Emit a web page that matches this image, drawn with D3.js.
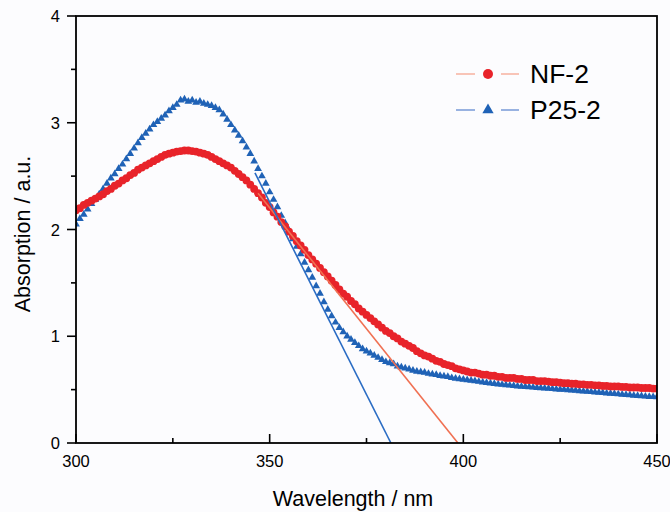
<!DOCTYPE html>
<html>
<head>
<meta charset="utf-8">
<script src="https://cdn.jsdelivr.net/npm/d3@7"></script>
<style>
  html, body { margin: 0; padding: 0; background: #fcfcfe; }
  svg { display: block; font-family: "Liberation Sans", Arial, sans-serif; }
</style>
</head>
<body>
<svg id="chart" width="670" height="512"></svg>
<script>
// UV-vis absorption spectra, one reading per nm from 300 to 450 nm
const wavelengths = d3.range(300, 451);

const nf2 = [
  2.18, 2.20, 2.23, 2.25, 2.27, 2.29, 2.31, 2.33, 2.36, 2.38,
  2.41, 2.43, 2.46, 2.48, 2.51, 2.53, 2.56, 2.58, 2.60, 2.62,
  2.64, 2.66, 2.68, 2.70, 2.71, 2.72, 2.73, 2.735, 2.74, 2.74,
  2.735, 2.73, 2.72, 2.71, 2.70, 2.68, 2.66, 2.64, 2.62, 2.60,
  2.58, 2.55, 2.52, 2.49, 2.46, 2.42, 2.38, 2.34, 2.30, 2.25,
  2.21, 2.16, 2.12, 2.07, 2.03, 1.98, 1.94, 1.89, 1.85, 1.81,
  1.76, 1.72, 1.68, 1.64, 1.60, 1.56, 1.52, 1.48, 1.44, 1.40,
  1.37, 1.33, 1.30, 1.26, 1.23, 1.20, 1.17, 1.14, 1.11, 1.08,
  1.05, 1.03, 1.00, 0.98, 0.95, 0.93, 0.91, 0.89, 0.86, 0.84,
  0.82, 0.81, 0.79, 0.77, 0.76, 0.74, 0.73, 0.72, 0.70, 0.69,
  0.68, 0.67, 0.66, 0.66, 0.65, 0.64, 0.64, 0.63, 0.63, 0.62,
  0.62, 0.61, 0.61, 0.61, 0.60, 0.60, 0.59, 0.59, 0.59, 0.58,
  0.58, 0.58, 0.575, 0.57, 0.57, 0.565, 0.56, 0.56, 0.555, 0.555,
  0.55, 0.55, 0.545, 0.545, 0.54, 0.54, 0.535, 0.535, 0.53, 0.53,
  0.53, 0.525, 0.525, 0.52, 0.52, 0.52, 0.515, 0.515, 0.515, 0.51,
  0.51
];

const p25 = [
  2.05, 2.10, 2.14, 2.19, 2.24, 2.28, 2.33, 2.38, 2.43, 2.48,
  2.52, 2.57, 2.61, 2.66, 2.71, 2.76, 2.81, 2.86, 2.90, 2.94,
  2.98, 3.01, 3.04, 3.07, 3.11, 3.14, 3.17, 3.21, 3.22, 3.20,
  3.21, 3.19, 3.20, 3.18, 3.17, 3.16, 3.14, 3.12, 3.08, 3.03,
  2.98, 2.93, 2.88, 2.83, 2.77, 2.71, 2.64, 2.57, 2.50, 2.43,
  2.35, 2.28, 2.21, 2.13, 2.06, 1.99, 1.91, 1.84, 1.77, 1.69,
  1.62, 1.55, 1.47, 1.40, 1.32, 1.25, 1.19, 1.13, 1.08, 1.04,
  1.00, 0.97, 0.94, 0.91, 0.88, 0.86, 0.84, 0.82, 0.80, 0.78,
  0.76, 0.75, 0.74, 0.72, 0.71, 0.70, 0.69, 0.68, 0.67, 0.665,
  0.66, 0.65, 0.645, 0.64, 0.63, 0.625, 0.62, 0.61, 0.605, 0.60,
  0.595, 0.59, 0.585, 0.58, 0.575, 0.57, 0.565, 0.56, 0.555, 0.55,
  0.547, 0.543, 0.54, 0.536, 0.532, 0.53, 0.527, 0.524, 0.521, 0.518,
  0.515, 0.512, 0.51, 0.507, 0.504, 0.502, 0.50, 0.497, 0.494, 0.491,
  0.488, 0.485, 0.482, 0.479, 0.476, 0.473, 0.47, 0.467, 0.464, 0.461,
  0.458, 0.455, 0.452, 0.449, 0.446, 0.443, 0.44, 0.437, 0.434, 0.432,
  0.43
];

// Tangent (band-edge) lines: [nm, absorption] end points
const nf2Tangent = [[347, 2.34], [398.6, 0]];
const p25Tangent = [[346.2, 2.53], [381.3, 0]];

const xTicks = [300, 350, 400, 450];
const xMinorTicks = [325, 375, 425];
const yTicks = [0, 1, 2, 3, 4];
const yMinorTicks = [0.5, 1.5, 2.5, 3.5];

const legendItems = [
  { name: 'NF-2', marker: 'circle' },
  { name: 'P25-2', marker: 'triangle' }
];

// Layout
const plotLeft = 76, plotRight = 657, plotTop = 16, plotBottom = 443;
const red = '#e8232a', blue = '#1f62b6';
const redLine = '#f07052', blueLine = '#2a6cc4';

const svg = d3.select('#chart');

const x = d3.scaleLinear().domain([300, 450]).range([plotLeft, plotRight]);
const y = d3.scaleLinear().domain([0, 4]).range([plotBottom, plotTop]);

svg.append('defs').append('clipPath').attr('id', 'plot-clip')
  .append('rect')
  .attr('x', plotLeft).attr('y', plotTop)
  .attr('width', plotRight - plotLeft).attr('height', plotBottom - plotTop);

const plot = svg.append('g').attr('clip-path', 'url(#plot-clip)');

// P25-2 triangles (drawn first, the red circles sit on top)
const tri = d3.symbol().type(d3.symbolTriangle).size(26);
plot.append('g')
  .selectAll('path')
  .data(wavelengths)
  .enter().append('path')
  .attr('d', tri)
  .attr('transform', (d, i) => `translate(${x(d)},${y(p25[i])})`)
  .attr('fill', blue);

// NF-2 circles
plot.append('g')
  .selectAll('circle')
  .data(wavelengths)
  .enter().append('circle')
  .attr('cx', d => x(d))
  .attr('cy', (d, i) => y(nf2[i]))
  .attr('r', 3.9)
  .attr('fill', red);

// Tangent lines
const line = d3.line().x(d => x(d[0])).y(d => y(d[1]));
plot.append('path').datum(nf2Tangent)
  .attr('d', line).attr('fill', 'none')
  .attr('stroke', redLine).attr('stroke-width', 1.6);
plot.append('path').datum(p25Tangent)
  .attr('d', line).attr('fill', 'none')
  .attr('stroke', blueLine).attr('stroke-width', 1.6);

// Frame
svg.append('rect')
  .attr('x', plotLeft).attr('y', plotTop)
  .attr('width', plotRight - plotLeft).attr('height', plotBottom - plotTop)
  .attr('fill', 'none')
  .attr('stroke', '#000')
  .attr('stroke-width', 1.8);

// X axis: ticks point inward
const xAxis = svg.append('g');
xAxis.selectAll('.major')
  .data(xTicks)
  .enter().append('line')
  .attr('x1', d => x(d)).attr('x2', d => x(d))
  .attr('y1', plotBottom).attr('y2', plotBottom - 9)
  .attr('stroke', '#000').attr('stroke-width', 1.6);
xAxis.selectAll('.minor')
  .data(xMinorTicks)
  .enter().append('line')
  .attr('x1', d => x(d)).attr('x2', d => x(d))
  .attr('y1', plotBottom).attr('y2', plotBottom - 5)
  .attr('stroke', '#000').attr('stroke-width', 1.6);
xAxis.selectAll('text')
  .data(xTicks)
  .enter().append('text')
  .attr('x', d => x(d))
  .attr('y', plotBottom + 24)
  .attr('text-anchor', 'middle')
  .attr('font-size', 16.5)
  .text(d => d);

// Y axis: ticks point outward
const yAxis = svg.append('g');
yAxis.selectAll('.major')
  .data(yTicks)
  .enter().append('line')
  .attr('x1', plotLeft - 9).attr('x2', plotLeft)
  .attr('y1', d => y(d)).attr('y2', d => y(d))
  .attr('stroke', '#000').attr('stroke-width', 1.6);
yAxis.selectAll('.minor')
  .data(yMinorTicks)
  .enter().append('line')
  .attr('x1', plotLeft - 5).attr('x2', plotLeft)
  .attr('y1', d => y(d)).attr('y2', d => y(d))
  .attr('stroke', '#000').attr('stroke-width', 1.6);
yAxis.selectAll('text')
  .data(yTicks)
  .enter().append('text')
  .attr('x', plotLeft - 16)
  .attr('y', d => y(d) + 6)
  .attr('text-anchor', 'end')
  .attr('font-size', 16.5)
  .text(d => d);

// Axis titles
svg.append('text')
  .attr('x', 353)
  .attr('y', 506)
  .attr('text-anchor', 'middle')
  .attr('font-size', 21.5)
  .text('Wavelength / nm');

svg.append('text')
  .attr('transform', 'translate(30,234) rotate(-90)')
  .attr('text-anchor', 'middle')
  .attr('font-size', 21.5)
  .text('Absorption / a.u.');

// Legend
const legend = svg.append('g').attr('transform', 'translate(456,74)');
const legendRow = legend.selectAll('g')
  .data(legendItems)
  .enter().append('g')
  .attr('transform', (d, i) => `translate(0,${i * 36})`);

legendRow.append('line')
  .attr('x1', 0).attr('x2', 19).attr('y1', 0).attr('y2', 0)
  .attr('stroke', d => d.marker === 'circle' ? '#f6ad98' : '#6d92d4')
  .attr('stroke-width', 1.4);
legendRow.append('line')
  .attr('x1', 45).attr('x2', 63).attr('y1', 0).attr('y2', 0)
  .attr('stroke', d => d.marker === 'circle' ? '#f6ad98' : '#6d92d4')
  .attr('stroke-width', 1.4);

legendRow.filter(d => d.marker === 'circle')
  .append('circle')
  .attr('cx', 32).attr('cy', 0).attr('r', 5)
  .attr('fill', red);
legendRow.filter(d => d.marker === 'triangle')
  .append('path')
  .attr('d', d3.symbol().type(d3.symbolTriangle).size(55))
  .attr('transform', 'translate(32,0)')
  .attr('fill', blue);

legendRow.append('text')
  .attr('x', 74)
  .attr('y', 9)
  .attr('font-size', 26.5)
  .text(d => d.name);
</script>
</body>
</html>
